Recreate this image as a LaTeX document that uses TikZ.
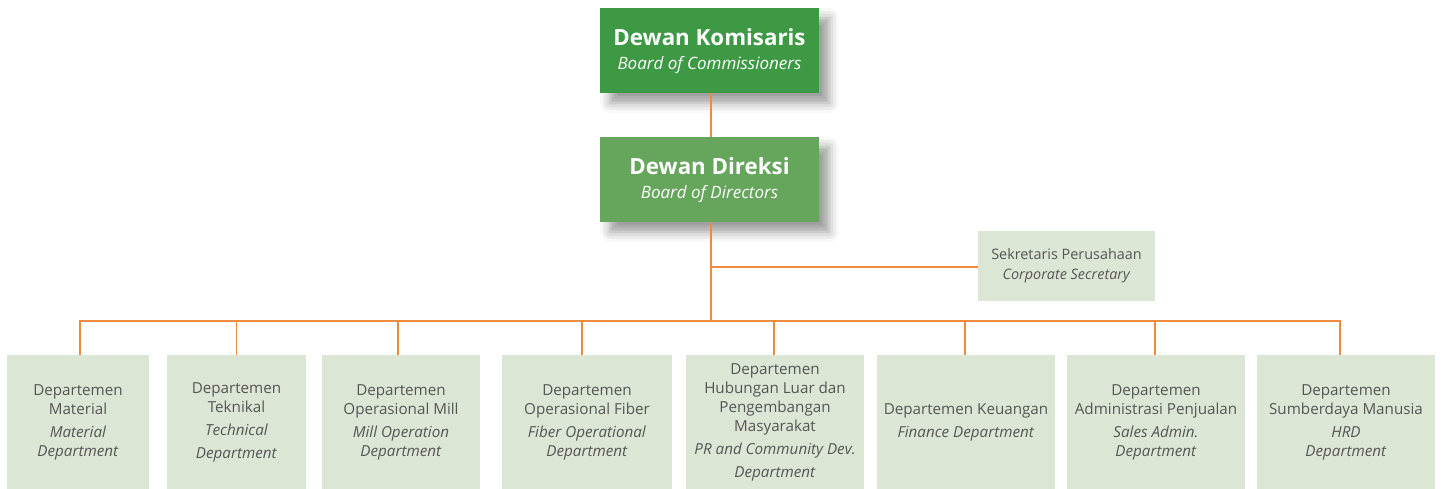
\documentclass[tikz,border=0pt]{standalone}
\usepackage{fontspec}
\setmainfont{Open Sans}
\usetikzlibrary{shadows.blur}
\definecolor{gdark}{HTML}{3E9944}
\definecolor{gmid}{HTML}{66A65C}
\definecolor{glight}{HTML}{DCE6D5}
\definecolor{conn}{HTML}{F08A3C}
\definecolor{txt}{HTML}{555555}
\tikzset{
  x=1pt,y=-1pt,
  topbox/.style={fill=#1, inner sep=0pt, minimum width=219pt, minimum height=85pt,
    text=white, align=center, font=\fontsize{17}{24}\selectfont,
    blur shadow={shadow xshift=10pt, shadow yshift=-10pt, shadow blur radius=10pt, shadow opacity=40}},
  deptbox/.style={fill=glight, inner sep=0pt, minimum height=134pt, text=txt, align=center,
    font=\fontsize{15.2}{19}\selectfont},
  secbox/.style={fill=glight, inner sep=0pt, minimum width=177pt, minimum height=70pt, text=txt,
    align=center, font=\fontsize{14.4}{19.5}\selectfont},
  link/.style={draw=conn, line width=1.4pt},
}
\newcommand{\toptitle}[1]{{\fontsize{22.3}{24}\selectfont\bfseries #1}}
\newcommand{\topsub}[1]{{\fontsize{17}{24}\selectfont\itshape #1}}
\begin{document}
\begin{tikzpicture}
\useasboundingbox (0,0) rectangle (1442,489);
\node[topbox=gdark, text depth=3pt] (kom) at (709.5,50.5) {\toptitle{Dewan Komisaris}\\\topsub{Board of Commissioners}};
\node[topbox=gmid, text depth=3pt] (dir) at (709.5,179.5) {\toptitle{Dewan Direksi}\\\topsub{Board of Directors}};
\node[secbox] (sek) at (1066.5,266) {Sekretaris Perusahaan\\\textit{Corporate Secretary}};

\node[deptbox, minimum width=142pt] (d1) at (78,422) {Departemen\\Material\\[4pt]\textit{Material}\\\textit{Department}};
\node[deptbox, minimum width=139pt] (d2) at (236.5,422) {Departemen\\Teknikal\\[4pt]\textit{Technical}\\[4pt]\textit{Department}};
\node[deptbox, minimum width=158pt] (d3) at (401,422) {Departemen\\Operasional Mill\\[4pt]\textit{Mill Operation}\\\textit{Department}};
\node[deptbox, minimum width=170pt] (d4) at (587,422) {Departemen\\Operasional Fiber\\[4pt]\textit{Fiber Operational}\\\textit{Department}};
\node[deptbox, minimum width=178pt] (d5) at (775,422) {Departemen\\Hubungan Luar dan\\Pengembangan\\Masyarakat\\[4pt]\textit{PR and Community Dev.}\\[4pt]\textit{Department}};
\node[deptbox, minimum width=178pt] (d6) at (966,422) {Departemen Keuangan\\[4pt]\textit{Finance Department}};
\node[deptbox, minimum width=178pt] (d7) at (1156,422) {Departemen\\Administrasi Penjualan\\[4pt]\textit{Sales Admin.}\\\textit{Department}};
\node[deptbox, minimum width=178pt] (d8) at (1346,422) {Departemen\\Sumberdaya Manusia\\[4pt]\textit{HRD}\\\textit{Department}};

\coordinate (j) at (711,321);
\coordinate (k) at (711,267);
\draw[link] ([xshift=1.5pt]kom.south) -- ([xshift=1.5pt]dir.north);
\draw[link] ([xshift=1.5pt]dir.south) -- (j);
\draw[link] (k) -- (k -| sek.west);
\draw[link] ([xshift=2pt]d1.north) -- ([xshift=2pt]d1.north |- j) -- ([xshift=-6pt]d8.north |- j) -- ([xshift=-6pt]d8.north);
\draw[link] (d2.north) -- (d2.north |- j);
\draw[link] ([xshift=-3pt]d3.north) -- ([xshift=-3pt]d3.north |- j);
\draw[link] ([xshift=-5pt]d4.north) -- ([xshift=-5pt]d4.north |- j);
\draw[link] ([xshift=-1pt]d5.north) -- ([xshift=-1pt]d5.north |- j);
\draw[link] ([xshift=-1pt]d6.north) -- ([xshift=-1pt]d6.north |- j);
\draw[link] ([xshift=-1pt]d7.north) -- ([xshift=-1pt]d7.north |- j);
\end{tikzpicture}
\end{document}
